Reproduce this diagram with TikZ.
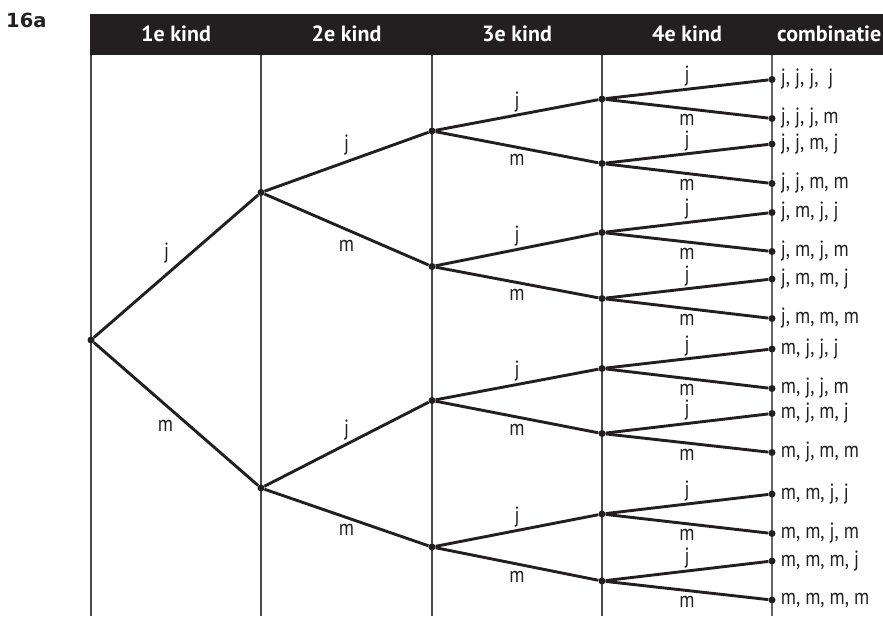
\documentclass[tikz,border=0pt]{standalone}
\usepackage{fontspec}
\setmainfont{PT Sans}
\newfontfamily\takfont[FakeStretch=0.85]{PT Sans}
\newfontfamily\nrfont{DejaVu Sans}
\usetikzlibrary{positioning}
\definecolor{balk}{HTML}{231F20}
\definecolor{lijn}{HTML}{4A4A4A}
\tikzset{
  tak/.style={line width=2.9pt, draw=balk},
  kol/.style={line width=1.5pt, draw=lijn},
  kop/.style={text=white, anchor=base, font=\bfseries\fontsize{22}{26}\selectfont},
  lbl/.style={font=\takfont\fontsize{22}{26}\selectfont, inner sep=1.5pt, text=balk},
  uitk/.style={lbl, anchor=west, inner sep=5pt},
  stip/.style={circle, fill=balk, inner sep=0pt, minimum size=7pt}
}

\begin{document}
\begin{tikzpicture}[x=1pt, y=-1pt]
        \useasboundingbox (0,0) rectangle (883,616);

        % Nummer van de opgave
        \node[anchor=base west, inner sep=0pt, text=balk, font=\nrfont\bfseries\fontsize{19.5}{22}\selectfont] (nr) at (6,27) {16a};

        % Kopbalk
        \fill[balk] (90,14) rectangle (883,55);
        \node[kop] (k1) at (176,41) {1e kind};
        \node[kop] (k2) at (346.5,41) {2e kind};
        \node[kop] (k3) at (517,41) {3e kind};
        \node[kop] (k4) at (687,41) {4e kind};
        \node[kop, anchor=base west, inner sep=0pt] (k5) at (777,41) {combinatie};

        % Kolomlijnen
        \draw[kol] (91,55) -- (91,616);
        \draw[kol] (261,55) -- (261,616);
        \draw[kol] (432,55) -- (432,616);
        \draw[kol] (602,55) -- (602,616);
        \draw[kol, draw=lijn!85, line width=2pt] (772,55) -- (772,616);

        % Knopen van de boom
        \node[stip] (r) at (91,340) {};
        \node[stip] (j) at (261,192.5) {};
        \node[stip] (m) at (261,488) {};
        \node[stip] (jj) at (432,131) {};
        \node[stip] (jm) at (432,266.5) {};
        \node[stip] (mj) at (432,400.5) {};
        \node[stip] (mm) at (432,547) {};
        \node[stip] (jjj) at (602,99) {};
        \node[stip] (jjm) at (602,163.5) {};
        \node[stip] (jmj) at (602,232.5) {};
        \node[stip] (jmm) at (602,298.5) {};
        \node[stip] (mjj) at (602,368.5) {};
        \node[stip] (mjm) at (602,433.5) {};
        \node[stip] (mmj) at (602,514) {};
        \node[stip] (mmm) at (602,581) {};

        % Eindpunten (combinaties)
        \node[stip] (jjjj) at (772,79.5) {};
        \node[stip] (jjjm) at (772,118.5) {};
        \node[stip] (jjmj) at (772,144) {};
        \node[stip] (jjmm) at (772,183.5) {};
        \node[stip] (jmjj) at (772,212.5) {};
        \node[stip] (jmjm) at (772,251.5) {};
        \node[stip] (jmmj) at (772,279) {};
        \node[stip] (jmmm) at (772,318.5) {};
        \node[stip] (mjjj) at (772,349) {};
        \node[stip] (mjjm) at (772,388.5) {};
        \node[stip] (mjmj) at (772,413.5) {};
        \node[stip] (mjmm) at (772,452.5) {};
        \node[stip] (mmjj) at (772,494) {};
        \node[stip] (mmjm) at (772,533.5) {};
        \node[stip] (mmmj) at (772,561) {};
        \node[stip] (mmmm) at (772,600) {};

        % 1e kind
        \draw[tak] (r) -- node[lbl, above left=0pt and 4pt] {j} (j);
        \draw[tak] (r) -- node[lbl, below left=3pt and 0pt] {m} (m);

        % 2e kind
        \draw[tak] (j) -- node[lbl, above=4pt] {j} (jj);
        \draw[tak] (j) -- node[lbl, below=8pt] {m} (jm);
        \draw[tak] (m) -- node[lbl, above=1pt] {j} (mj);
        \draw[tak] (m) -- node[lbl, below=4pt] {m} (mm);

        % 3e kind
        \draw[tak] (jj) -- node[lbl, above] {j} (jjj);
        \draw[tak] (jj) -- node[lbl, below=4pt] {m} (jjm);
        \draw[tak] (jm) -- node[lbl, above] {j} (jmj);
        \draw[tak] (jm) -- node[lbl, below=4pt] {m} (jmm);
        \draw[tak] (mj) -- node[lbl, above] {j} (mjj);
        \draw[tak] (mj) -- node[lbl, below=4pt] {m} (mjm);
        \draw[tak] (mm) -- node[lbl, above] {j} (mmj);
        \draw[tak] (mm) -- node[lbl, below=4pt] {m} (mmm);

        % 4e kind
        \draw[tak] (jjj) -- node[lbl, above] {j} (jjjj);
        \draw[tak] (jjj) -- node[lbl, below=3pt] {m} (jjjm);
        \draw[tak] (jjm) -- node[lbl, above] {j} (jjmj);
        \draw[tak] (jjm) -- node[lbl, below=3pt] {m} (jjmm);
        \draw[tak] (jmj) -- node[lbl, above] {j} (jmjj);
        \draw[tak] (jmj) -- node[lbl, below=3pt] {m} (jmjm);
        \draw[tak] (jmm) -- node[lbl, above] {j} (jmmj);
        \draw[tak] (jmm) -- node[lbl, below=3pt] {m} (jmmm);
        \draw[tak] (mjj) -- node[lbl, above] {j} (mjjj);
        \draw[tak] (mjj) -- node[lbl, below=3pt] {m} (mjjm);
        \draw[tak] (mjm) -- node[lbl, above] {j} (mjmj);
        \draw[tak] (mjm) -- node[lbl, below=3pt] {m} (mjmm);
        \draw[tak] (mmj) -- node[lbl, above] {j} (mmjj);
        \draw[tak] (mmj) -- node[lbl, below=3pt] {m} (mmjm);
        \draw[tak] (mmm) -- node[lbl, above] {j} (mmmj);
        \draw[tak] (mmm) -- node[lbl, below=3pt] {m} (mmmm);

        % Combinaties
        \node[uitk] at (jjjj.east) {j, j, j,\ \ j};
        \node[uitk] at (jjjm.east) {j, j, j, m};
        \node[uitk] at (jjmj.east) {j, j, m, j};
        \node[uitk] at (jjmm.east) {j, j, m, m};
        \node[uitk] at (jmjj.east) {j, m, j, j};
        \node[uitk] at (jmjm.east) {j, m, j, m};
        \node[uitk] at (jmmj.east) {j, m, m, j};
        \node[uitk] at (jmmm.east) {j, m, m, m};
        \node[uitk] at (mjjj.east) {m, j, j, j};
        \node[uitk] at (mjjm.east) {m, j, j, m};
        \node[uitk] at (mjmj.east) {m, j, m, j};
        \node[uitk] at (mjmm.east) {m, j, m, m};
        \node[uitk] at (mmjj.east) {m, m, j, j};
        \node[uitk] at (mmjm.east) {m, m, j, m};
        \node[uitk] at (mmmj.east) {m, m, m, j};
        \node[uitk] at (mmmm.east) {m, m, m, m};

    \end{tikzpicture}
\end{document}
